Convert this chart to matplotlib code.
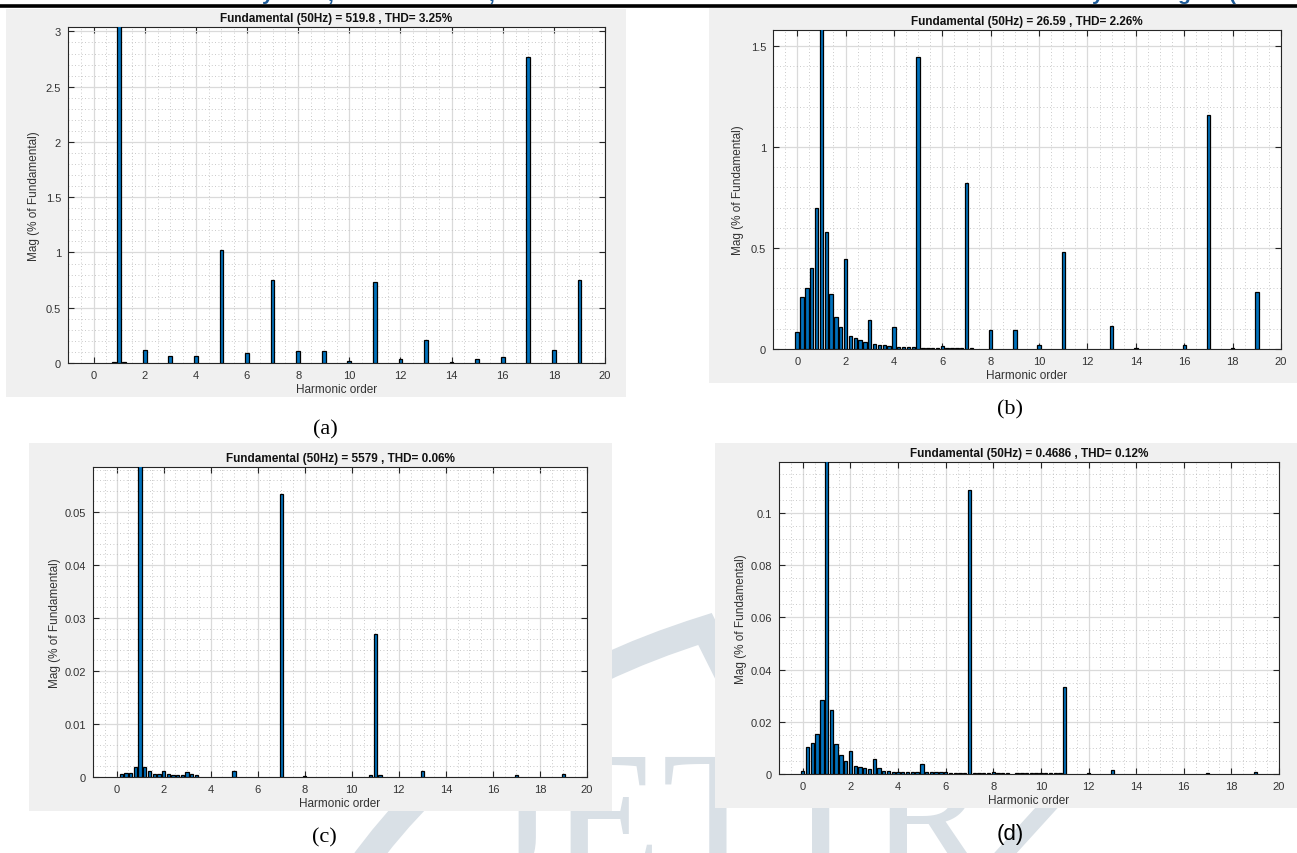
import matplotlib.pyplot as plt
import numpy as np
from matplotlib.ticker import MultipleLocator, FuncFormatter
from matplotlib.patches import Rectangle, PathPatch
from matplotlib.path import Path
from matplotlib.lines import Line2D

plt.rcParams['font.family'] = ['Liberation Sans', 'DejaVu Sans']

W, H = 1297, 854

# ---- data (harmonic order, % of fundamental) ----
a_order = [0.8, 1.0, 1.2, 2, 3, 4, 5, 6, 7, 8, 9, 10, 11, 12, 13, 14, 15, 16, 17, 18, 19]
a_mag = [0.01, 100, 0.01, 0.12, 0.06, 0.06, 1.02, 0.09, 0.75, 0.11, 0.11, 0.02,
         0.73, 0.04, 0.21, 0.005, 0.04, 0.05, 2.77, 0.12, 0.75]

b_order = [0.0, 0.2, 0.4, 0.6, 0.8, 1.0, 1.2, 1.4, 1.6, 1.8, 2.0, 2.2, 2.4, 2.6, 2.8,
           3.0, 3.2, 3.4, 3.6, 3.8, 4.0, 4.2, 4.4, 4.6, 4.8, 5.0, 5.2, 5.4, 5.6, 5.8,
           6.0, 6.2, 6.4, 6.6, 6.8, 7.0, 7.2, 8, 9, 10, 11, 13, 14, 16, 17, 18, 19]
b_mag = [0.083, 0.26, 0.30, 0.40, 0.70, 100, 0.58, 0.27, 0.16, 0.11, 0.447, 0.066,
         0.053, 0.043, 0.036, 0.142, 0.026, 0.022, 0.022, 0.017, 0.11, 0.012, 0.012,
         0.012, 0.012, 1.447, 0.007, 0.007, 0.007, 0.007, 0.017, 0.007, 0.007, 0.007,
         0.007, 0.82, 0.007, 0.096, 0.096, 0.022, 0.48, 0.116, 0.005, 0.022, 1.16,
         0.003, 0.28]

c_order = [0.2, 0.4, 0.6, 0.8, 1.0, 1.2, 1.4, 1.6, 1.8, 2.0, 2.2, 2.4, 2.6, 2.8, 3.0,
           3.2, 3.4, 5, 7, 8, 10.8, 11, 11.2, 13, 17, 19]
c_mag = [0.0005, 0.00075, 0.0008, 0.0018, 100, 0.0019, 0.0011, 0.0006, 0.0005, 0.0012,
         0.0005, 0.0003, 0.0003, 0.0003, 0.0009, 0.0005, 0.0003, 0.0012, 0.0534, 0.0001,
         0.0003, 0.0269, 0.0003, 0.0012, 0.0004, 0.0006]

d_order = [0.0, 0.2, 0.4, 0.6, 0.8, 1.0, 1.2, 1.4, 1.6, 1.8, 2.0, 2.2, 2.4, 2.6, 2.8,
           3.0, 3.2, 3.4, 3.6, 3.8, 4.0, 4.2, 4.4, 4.6, 4.8, 5.0, 5.2, 5.4, 5.6, 5.8,
           6.0, 6.2, 6.4, 6.6, 6.8, 7.0, 7.2, 7.4, 7.6, 7.8, 8.0, 8.2, 8.4, 8.6,
           9.0, 9.2, 9.4, 9.6, 9.8, 10.0, 10.2, 10.4, 10.6, 10.8, 11, 12, 13, 17, 19]
d_mag = [0.001, 0.0102, 0.0118, 0.0155, 0.0283, 100, 0.0246, 0.0113, 0.0071, 0.005,
         0.0087, 0.0031, 0.0027, 0.0023, 0.0019, 0.0056, 0.0023, 0.0013, 0.0012, 0.0009,
         0.0009, 0.0008, 0.0008, 0.0008, 0.0008, 0.0037, 0.0009, 0.0009, 0.0008, 0.0006,
         0.0007, 0.0005, 0.0005, 0.0005, 0.0005, 0.1087, 0.0005, 0.0005, 0.0005, 0.0005,
         0.0009, 0.0005, 0.0005, 0.0005, 0.0004, 0.0004, 0.0004, 0.0004, 0.0004, 0.0005,
         0.0004, 0.0004, 0.0004, 0.0004, 0.0334, 0.0003, 0.0015, 0.0003, 0.0008]

titles = ['Fundamental (50Hz) = 519.8 , THD= 3.25%',
          'Fundamental (50Hz) = 26.59 , THD= 2.26%',
          'Fundamental (50Hz) = 5579 , THD= 0.06%',
          'Fundamental (50Hz) = 0.4686 , THD= 0.12%']
panel_labels = ['(a)', '(b)', '(c)', '(d)']


def fx(x):
    return x / W


def fy(y):
    return 1 - y / H


fig = plt.figure(figsize=(W / 100, H / 100), dpi=100)
fig.patch.set_facecolor('white')

# watermark behind everything
wm = '#d9e0e6'
for ch, xc in zip('JETIR', [517, 606, 718, 820, 930]):
    fig.text(fx(xc), fy(876), ch, ha='center', va='baseline', fontsize=132,
             family='Liberation Serif', color=wm, zorder=-3)
arc = Path([(fx(359), fy(870)), (fx(480), fy(700)), (fx(705), fy(630)), (fx(735), fy(690))],
           [Path.MOVETO, Path.CURVE3, Path.CURVE3, Path.LINETO])
fig.add_artist(PathPatch(arc, fill=False, edgecolor=wm, lw=19, transform=fig.transFigure,
                         zorder=-3, capstyle='butt'))
fig.add_artist(Line2D([fx(1050), fx(1000)], [fy(805), fy(860)], color=wm, lw=12,
                      transform=fig.transFigure, zorder=-3))

# page header remnants
fig.add_artist(Line2D([0, 1], [fy(6.5), fy(6.5)], color='black', lw=2.6,
                      transform=fig.transFigure, zorder=5))
for ch, xc in [('y', 268), (',', 330), (',', 491), ('y', 1098), ('g', 1183), ('(', 1232)]:
    fig.text(fx(xc), fy(0.5), ch, ha='center', va='baseline', fontsize=15,
             fontweight='bold', color='#1f5c99', zorder=5)


def panel(bg, box, order, mag, ytop, ymajor, yminor, title, lab, lab_xy, lab_family):
    l, t, r, b = bg
    fig.add_artist(Rectangle((fx(l), fy(b)), fx(r - l), (b - t) / H, transform=fig.transFigure,
                             facecolor='#f0f0f0', edgecolor='none', zorder=-1))
    l, t, r, b = box
    ax = fig.add_axes([fx(l), fy(b), fx(r - l), (b - t) / H])
    ax.bar(order, mag, width=0.14, color='#0072BD', edgecolor='black', linewidth=0.9, zorder=3)
    ax.set_xlim(-1, 20)
    ax.set_ylim(0, ytop)
    ax.xaxis.set_major_locator(MultipleLocator(2))
    ax.xaxis.set_minor_locator(MultipleLocator(0.5))
    ax.yaxis.set_major_locator(MultipleLocator(ymajor))
    ax.yaxis.set_minor_locator(MultipleLocator(yminor))
    ax.yaxis.set_major_formatter(FuncFormatter(lambda v, p: '%g' % round(v, 6)))
    ax.grid(which='major', color='#dadada', lw=0.9, zorder=0)
    ax.grid(which='minor', color='#b8b8b8', lw=0.6, linestyle=(0, (1, 3)), zorder=0)
    ax.set_axisbelow(True)
    ax.tick_params(which='major', direction='in', length=4, width=0.8, top=True, right=True,
                   color='#262626', labelcolor='#333333', labelsize=8, pad=5)
    ax.tick_params(which='minor', length=0)
    for s in ax.spines.values():
        s.set_color('#262626')
        s.set_linewidth(0.8)
    ax.set_title(title, fontsize=8.5, fontweight='bold', color='#111111', pad=4)
    ax.set_xlabel('Harmonic order', fontsize=8.5, color='#333333', labelpad=2)
    ax.set_ylabel('Mag (% of Fundamental)', fontsize=8.5, color='#333333')
    ax.yaxis.set_label_coords((lab_xy[2] - l) / (r - l), 0.5)
    fig.text(fx(lab_xy[0]), fy(lab_xy[1]), lab, ha='center', va='center', fontsize=16,
             family=lab_family, color='black')
    return ax


panel((6, 10, 626, 398), (68, 28, 605, 364), a_order, a_mag, 3.04, 0.5, 0.1,
      titles[0], panel_labels[0], (325, 430, 40), 'Liberation Serif')
panel((709, 9, 1297, 384), (773, 31, 1281, 350), b_order, b_mag, 1.58, 0.5, 0.1,
      titles[1], panel_labels[1], (1010, 410, 744), 'Liberation Serif')
panel((29, 444, 612, 812), (93, 468, 587, 778), c_order, c_mag, 0.0585, 0.01, 0.002,
      titles[2], panel_labels[2], (324, 838, 61), 'Liberation Serif')
panel((715, 444, 1297, 809), (779, 463, 1279, 775), d_order, d_mag, 0.1195, 0.02, 0.005,
      titles[3], panel_labels[3], (1010, 835, 747), 'Liberation Sans')

fig.savefig('out.png', dpi=100)
